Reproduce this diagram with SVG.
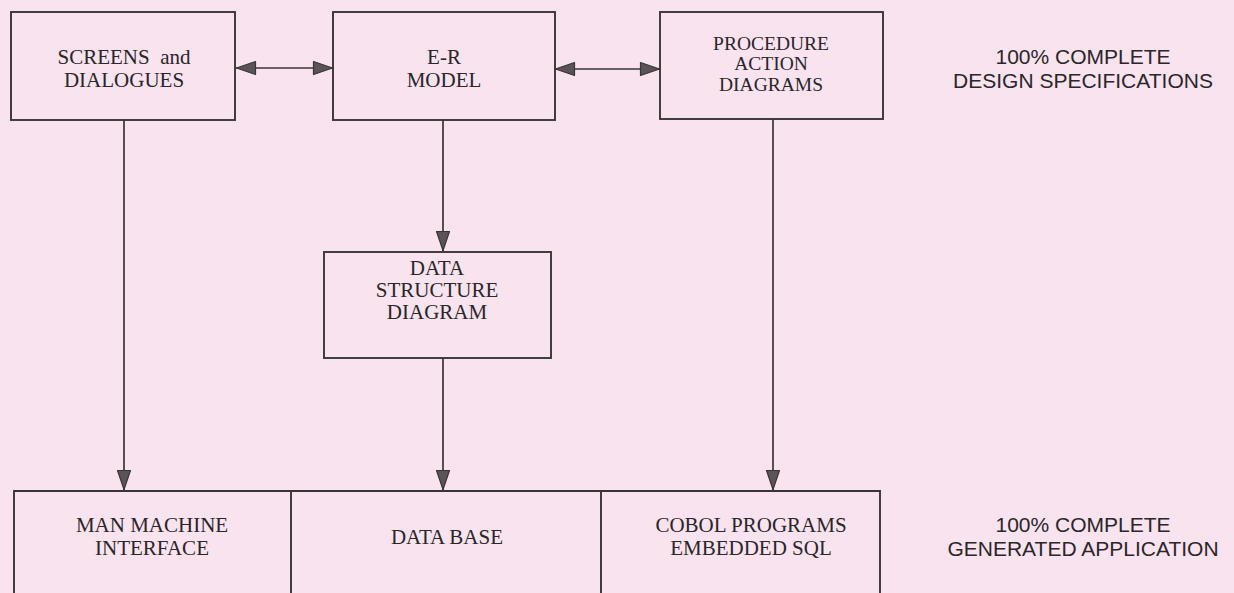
<svg xmlns="http://www.w3.org/2000/svg" width="1234" height="593" viewBox="0 0 1234 593">
  <defs>
    <marker id="ah" viewBox="0 0 22 16" refX="21" refY="8" markerWidth="22" markerHeight="16" markerUnits="userSpaceOnUse" orient="auto-start-reverse">
      <path d="M1.5,1.5 L20.5,8 L1.5,14.5 Z" fill="#5a5458" stroke="#3a3438" stroke-width="1.2" stroke-linejoin="round"/>
    </marker>
    <style>
      .box { fill: none; stroke: #3a3438; stroke-width: 1.9; }
      .con { fill: none; stroke: #3a3438; stroke-width: 1.7; }
      .t { font-family: "Liberation Serif", "Times New Roman", serif; font-size: 21px; fill: #2a262a; text-anchor: middle; }
      .t3 { font-size: 19.5px; }
      .s { font-family: "Liberation Sans", Arial, sans-serif; font-size: 21px; fill: #2a262a; text-anchor: middle; }
    </style>
  </defs>
  <rect x="0" y="0" width="1234" height="593" fill="#f9e3ef"/>

  <g id="screens">
    <rect class="box" x="11" y="12" width="224" height="108"/>
    <text class="t" x="124" y="64" xml:space="preserve">SCREENS  and</text>
    <text class="t" x="124" y="87">DIALOGUES</text>
  </g>
  <g id="er-model">
    <rect class="box" x="333" y="12" width="222" height="108"/>
    <text class="t" x="444" y="64">E-R</text>
    <text class="t" x="444" y="87">MODEL</text>
  </g>
  <g id="procedure">
    <rect class="box" x="660" y="12" width="223" height="107"/>
    <text class="t t3" x="771" y="50">PROCEDURE</text>
    <text class="t t3" x="771" y="70">ACTION</text>
    <text class="t t3" x="771" y="91">DIAGRAMS</text>
  </g>
  <g id="design-label">
    <text class="s" x="1083" y="64">100% COMPLETE</text>
    <text class="s" x="1083" y="88">DESIGN SPECIFICATIONS</text>
  </g>
  <g id="data-structure">
    <rect class="box" x="324" y="252" width="227" height="106"/>
    <text class="t" x="437" y="275">DATA</text>
    <text class="t" x="437" y="297">STRUCTURE</text>
    <text class="t" x="437" y="319">DIAGRAM</text>
  </g>
  <g id="man-machine">
    <path class="box" d="M14,600 L14,491 L291,491 L291,600"/>
    <text class="t" x="152" y="532">MAN MACHINE</text>
    <text class="t" x="152" y="555">INTERFACE</text>
  </g>
  <g id="data-base">
    <path class="box" d="M291,491 L601,491"/>
    <text class="t" x="447" y="544">DATA BASE</text>
  </g>
  <g id="cobol">
    <path class="box" d="M601,600 L601,491 L880,491 L880,600"/>
    <text class="t" x="751" y="532">COBOL PROGRAMS</text>
    <text class="t" x="751" y="555">EMBEDDED SQL</text>
  </g>
  <g id="generated-label">
    <text class="s" x="1083" y="532">100% COMPLETE</text>
    <text class="s" x="1083" y="556">GENERATED APPLICATION</text>
  </g>

  <g id="connectors">
    <line class="con" x1="236" y1="68" x2="333" y2="68" marker-start="url(#ah)" marker-end="url(#ah)"/>
    <line class="con" x1="555" y1="69" x2="660" y2="69" marker-start="url(#ah)" marker-end="url(#ah)"/>
    <line class="con" x1="124" y1="120" x2="124" y2="490" marker-end="url(#ah)"/>
    <line class="con" x1="443" y1="120" x2="443" y2="251" marker-end="url(#ah)"/>
    <line class="con" x1="443" y1="358" x2="443" y2="490" marker-end="url(#ah)"/>
    <line class="con" x1="773" y1="119" x2="773" y2="490" marker-end="url(#ah)"/>
  </g>
</svg>
